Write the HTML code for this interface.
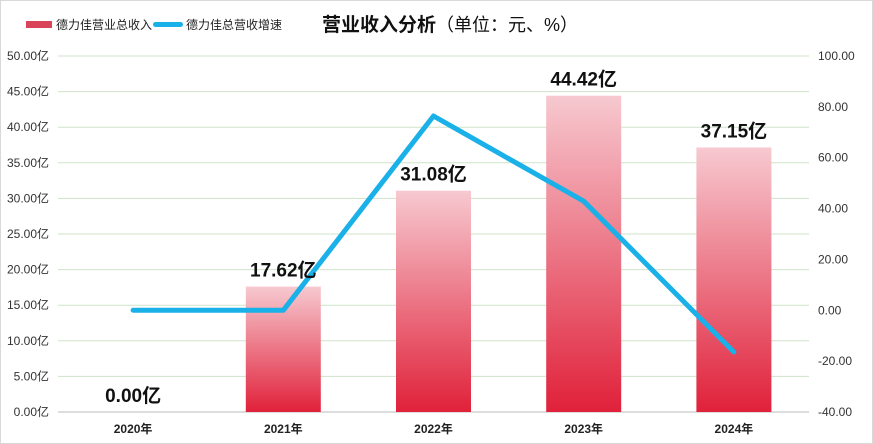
<!DOCTYPE html>
<html><head><meta charset="utf-8"><style>
body{margin:0;background:#fff;}
svg{display:block;font-family:"Liberation Sans","Noto Sans CJK SC",sans-serif;}
</style></head><body>
<svg id="chart" width="873" height="444">
<defs>
<linearGradient id="barGrad" x1="0" y1="0" x2="0" y2="1">
<stop offset="0" stop-color="#f7c9d0"/><stop offset="1" stop-color="#e0213a"/>
</linearGradient>
</defs>
<rect x="0.5" y="0.5" width="872" height="443" fill="#fff" stroke="#d9d9d9"/>
<g>
<rect x="26" y="21" width="26" height="7" fill="#d94458"/>
<text x="56" y="29" font-size="12" fill="#222">德力佳营业总收入</text>
<rect x="153" y="22" width="30" height="5" rx="2.5" fill="#1ab0e8"/>
<text x="186" y="29" font-size="12" fill="#222">德力佳总营收增速</text>
</g>
<text x="322" y="31" font-size="19" font-weight="bold" fill="#111">营业收入分析<tspan font-weight="normal" font-size="18">（单位：元、%）</tspan></text>
<g id="grid"></g><g id="bars"></g><g id="line"></g><g id="labels"></g>
</svg>
<script>
const categories=["2020年","2021年","2022年","2023年","2024年"];
const revenue=[0,17.62,31.08,44.42,37.15];
const growth=[0,0,76.4,42.9,-16.4];
const leftTicks=[0,5,10,15,20,25,30,35,40,45,50];
const rightTicks=[-40,-20,0,20,40,60,80,100];
const NS="http://www.w3.org/2000/svg";
const x0=58,x1=809,yTop=56,yBot=412;
const yL=v=>yBot-(v-0)/(50-0)*(yBot-yTop);
const yR=v=>yBot-(v+40)/(140)*(yBot-yTop);
const band=(x1-x0)/categories.length;
const xC=i=>x0+band*(i+0.5);
function mk(tag,attrs,parent,text){const e=document.createElementNS(NS,tag);for(const k in attrs)e.setAttribute(k,attrs[k]);if(text!==undefined)e.textContent=text;document.getElementById(parent).appendChild(e);return e;}
leftTicks.forEach(t=>{
 const l=mk("line",{x1:x0,x2:x1,y1:yL(t),y2:yL(t),stroke:t===0?"#bbb":"#cfe3c9","stroke-width":1},"grid");
 
 
 const tx=mk("text",{x:49,y:yL(t)+4,"font-size":12,fill:"#333","text-anchor":"end"},"grid",t.toFixed(2)+"亿");
 
 
});
rightTicks.forEach(t=>{
 const tx=mk("text",{x:818,y:yR(t)+4,"font-size":12,fill:"#333"},"grid",t.toFixed(2));
 
 
});
categories.forEach((c,i)=>{
 const tx=mk("text",{x:xC(i),y:433,"font-size":12,"font-weight":"bold",fill:"#222","text-anchor":"middle"},"grid",c);
 
 
 const bw=75,h=yBot-yL(revenue[i]);
 if(h>0){const b=mk("rect",{x:xC(i)-bw/2,y:yL(revenue[i]),width:bw,height:h,fill:"url(#barGrad)"},"bars");
 
 }
 const lb=mk("text",{x:xC(i),y:yL(revenue[i])-10,"font-size":19,"font-weight":"bold",fill:"#111","text-anchor":"middle"},"labels",revenue[i].toFixed(2)+"亿");
 
 
});
const pts=growth.map((g,i)=>xC(i)+","+yR(g)).join(" ");
const pl=mk("polyline",{points:pts,fill:"none",stroke:"#1ab0e8","stroke-width":5,"stroke-linejoin":"round","stroke-linecap":"round"},"line");


</script>
</body></html>
